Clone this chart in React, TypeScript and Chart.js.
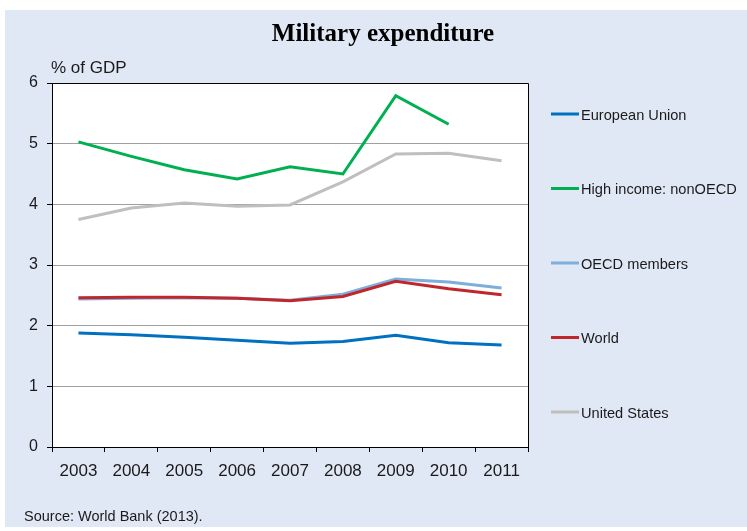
import React, { useEffect, useRef } from "react";
import { Chart, registerables } from "chart.js";

Chart.register(...registerables);

const categories = ["2003", "2004", "2005", "2006", "2007", "2008", "2009", "2010", "2011"];
const euValues = [1.88, 1.85, 1.81, 1.76, 1.71, 1.74, 1.84, 1.72, 1.68];
const highIncomeValues = [5.03, 4.79, 4.57, 4.42, 4.62, 4.5, 5.79, 5.32, null];
const oecdValues = [2.44, 2.45, 2.46, 2.45, 2.42, 2.52, 2.77, 2.72, 2.62];
const worldValues = [2.46, 2.47, 2.47, 2.45, 2.41, 2.48, 2.73, 2.61, 2.51];
const usValues = [3.75, 3.94, 4.02, 3.97, 3.99, 4.37, 4.83, 4.84, 4.72];
const seriesNames = ["European Union", "High income: nonOECD", "OECD members", "World", "United States"];
const seriesColors = ["#0070c0", "#00b050", "#7eaedb", "#c0272d", "#bfbfbf"];
const yTicks = [0, 1, 2, 3, 4, 5, 6];

const W = 747;
const H = 531;
const PLOT_LEFT = 52;
const PLOT_RIGHT = 528;
const PLOT_TOP = 83;
const PLOT_BOTTOM = 447;
const SANS = "'Liberation Sans', Arial, sans-serif";

const decorPlugin = {
  id: "decor",
  beforeDraw(chart: any) {
    const { ctx, chartArea } = chart;
    ctx.save();
    ctx.fillStyle = "#ffffff";
    ctx.fillRect(0, 0, W, H);
    ctx.fillStyle = "#e1e8f5";
    ctx.fillRect(5, 10, W - 5, 517);
    ctx.fillStyle = "#ffffff";
    ctx.fillRect(chartArea.left, chartArea.top, chartArea.right - chartArea.left, chartArea.bottom - chartArea.top);
    ctx.restore();
  },
  afterDraw(chart: any) {
    const { ctx, chartArea } = chart;
    ctx.save();
    ctx.strokeStyle = "#000000";
    ctx.lineWidth = 1;
    ctx.beginPath();
    ctx.moveTo(chartArea.left, chartArea.top + 0.5);
    ctx.lineTo(chartArea.right + 0.5, chartArea.top + 0.5);
    ctx.lineTo(chartArea.right + 0.5, chartArea.bottom);
    ctx.stroke();

    ctx.fillStyle = "#000000";
    ctx.textAlign = "center";
    ctx.textBaseline = "middle";
    ctx.font = "bold 25px 'Liberation Serif', 'Times New Roman', serif";
    ctx.fillText("Military expenditure", 383, 35);

    ctx.textAlign = "left";
    ctx.font = `17px ${SANS}`;
    ctx.fillStyle = "#1a1a1a";
    ctx.fillText("% of GDP", 51, 68);

    ctx.font = `14.5px ${SANS}`;
    ctx.fillText("Source: World Bank (2013).", 24, 517);

    const ds = chart.data.datasets;
    const startY = 114;
    const step = 74.5;
    ctx.font = `14.6px ${SANS}`;
    for (let i = 0; i < ds.length; i++) {
      const y = startY + i * step;
      ctx.strokeStyle = ds[i].borderColor;
      ctx.lineWidth = 3;
      ctx.beginPath();
      ctx.moveTo(551, y);
      ctx.lineTo(579, y);
      ctx.stroke();
      ctx.fillStyle = "#1a1a1a";
      ctx.fillText(ds[i].label, 581, y + 1.5);
    }
    ctx.restore();
  },
};

export default function App() {
  const canvasRef = useRef<HTMLCanvasElement | null>(null);

  useEffect(() => {
    if (!canvasRef.current) return;
    const values = [euValues, highIncomeValues, oecdValues, worldValues, usValues];
    const orders = [1, 1, 2, 0, 3];
    const chart = new Chart(canvasRef.current, {
      type: "line",
      data: {
        labels: categories,
        datasets: values.map((v, i) => ({
          label: seriesNames[i],
          data: v,
          borderColor: seriesColors[i],
          backgroundColor: seriesColors[i],
          borderWidth: 3,
          pointRadius: 0,
          pointHoverRadius: 0,
          tension: 0,
          fill: false,
          order: orders[i],
        })),
      },
      options: {
        animation: false,
        responsive: false,
        devicePixelRatio: 1,
        layout: {
          padding: { left: 0, top: PLOT_TOP, right: W - PLOT_RIGHT, bottom: 0 },
        },
        plugins: {
          legend: { display: false },
          tooltip: { enabled: false },
          title: { display: false },
        },
        scales: {
          x: {
            offset: true,
            afterFit: (s: any) => {
              s.height = H - PLOT_BOTTOM;
            },
            grid: {
              offset: true,
              drawOnChartArea: false,
              drawTicks: true,
              tickLength: 5,
              tickColor: "#000000",
              color: "#000000",
            },
            border: { display: true, color: "#000000", width: 1 },
            ticks: {
              color: "#1a1a1a",
              padding: 9,
              font: { family: SANS, size: 17 },
            },
          },
          y: {
            min: 0,
            max: 6,
            afterFit: (s: any) => {
              s.width = PLOT_LEFT;
            },
            afterBuildTicks: (s: any) => {
              s.ticks = yTicks.map((v) => ({ value: v }));
            },
            grid: {
              color: (c: any) => (c.tick && (c.tick.value === 6 || c.tick.value === 0) ? "#000000" : "#a0a0a0"),
              tickColor: "#000000",
              tickLength: 5,
              lineWidth: 1,
            },
            border: { display: true, color: "#000000", width: 1 },
            ticks: {
              color: "#1a1a1a",
              padding: 9,
              font: { family: SANS, size: 16 },
            },
          },
        },
      },
      plugins: [decorPlugin],
    });
    return () => chart.destroy();
  }, []);

  return (
    <div style={{ position: "fixed", left: 0, top: 0, width: W, height: H }}>
      <canvas ref={canvasRef} width={W} height={H} style={{ width: W, height: H, display: "block" }} />
    </div>
  );
}
